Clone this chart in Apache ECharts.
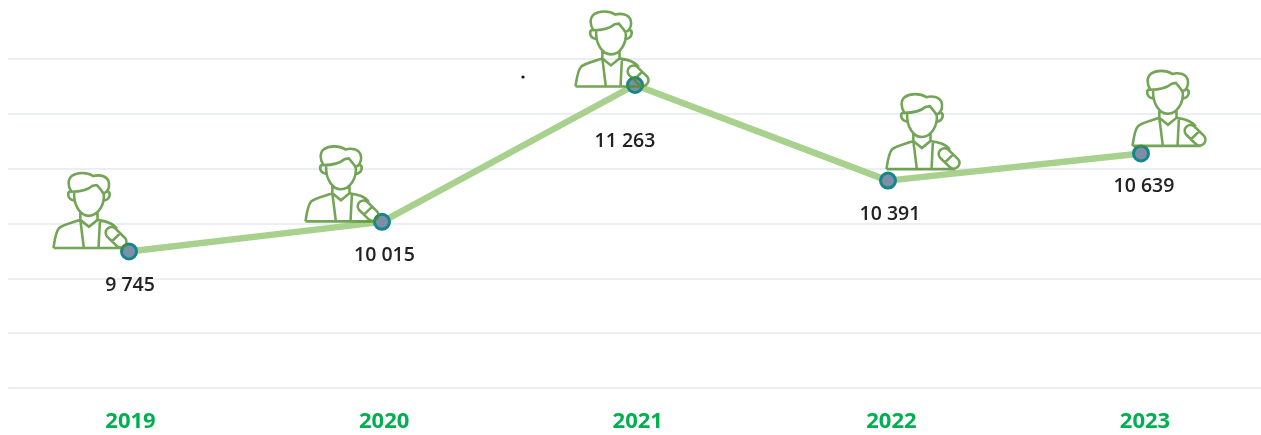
<!DOCTYPE html>
<html>
<head>
<meta charset="utf-8">
<style>html,body{margin:0;padding:0;background:#fff}#c{width:1261px;height:435px}</style>
<script src="https://cdn.jsdelivr.net/npm/echarts@6/dist/echarts.min.js"></script>
</head>
<body>
<div id="c"></div>
<script>
const years = [2019, 2020, 2021, 2022, 2023];
const values = [9745, 10015, 11263, 10391, 10639];

const iconOffsets = [[-39, -41], [-40, -38], [-23, -36], [35, -49], [28, -45]];
const labelOffsets = [[1, 34], [2.5, 34], [-10, 56], [2, 34], [3, 33]];

const personIcon = 'path://' +
  'M72 262 L272 262 ' +
  'M72 262 C76 235 78 215 88 203 C100 192 130 186 150 178 L175 199 L200 178 C222 182 244 186 256 204 ' +
  'M150 178 L160 260 M207 180 L203 260 ' +
  'M150 154 L150 178 M200 154 L200 178 ' +
  'M132 96 C130 135 150 166 175 166 C200 166 222 135 218 98 ' +
  'M122 92 C110 96 112 116 132 120 M228 92 C240 96 238 116 219 120 ' +
  'M124 94 C114 78 112 58 126 46 C140 36 168 34 188 47 C205 42 226 46 232 62 C236 76 232 88 224 96 L216 98 C212 90 206 84 198 74 L186 76 C172 88 150 94 124 94 Z ' +
  'M252 204 L280 232 A17 17 0 0 1 256 256 L228 228 A17 17 0 0 1 252 204 Z ' +
  'M266 218 L242 242';

const chart = echarts.init(document.getElementById('c'), null, { renderer: 'canvas' });
const fmt = v => String(v).replace(/\B(?=(\d{3})+$)/g, ' ');

chart.setOption({
  animation: false,
  backgroundColor: '#fff',
  grid: [
    { left: 8, right: 0, top: 59, bottom: 47 },
    { left: 130.5, right: 116, top: 59, bottom: 47 }
  ],
  xAxis: [
    { type: 'value', gridIndex: 0, min: 2018.5217, max: 2023.4743, show: false, splitLine: { show: false } },
    {
      type: 'category', gridIndex: 1, data: years.map(String), position: 'bottom', boundaryGap: false,
      axisLine: { show: false }, axisTick: { show: false },
      axisLabel: { color: '#00b050', fontFamily: 'Open Sans', fontWeight: 700, fontSize: 22, margin: 23, showMinLabel: true, showMaxLabel: true, interval: 0 }
    }
  ],
  yAxis: [
    {
      type: 'value', gridIndex: 0, min: 8500, max: 11500, interval: 500,
      axisLine: { show: false }, axisTick: { show: false }, axisLabel: { show: false },
      splitLine: { show: true, lineStyle: { color: '#e4e8f0', width: 1.5 } }
    },
    { type: 'value', gridIndex: 1, min: 8500, max: 11500, show: false, splitLine: { show: false } }
  ],
  series: [
    {
      type: 'line', xAxisIndex: 0, yAxisIndex: 0, z: 2,
      data: years.map((y, i) => ({
        value: [y, values[i]],
        label: { offset: labelOffsets[i] }
      })),
      symbol: 'circle', symbolSize: 15,
      lineStyle: { color: '#a9d18e', width: 6.5 },
      itemStyle: { color: '#7c8fa9', borderColor: '#16868a', borderWidth: 3 },
      label: {
        show: true, position: 'inside', color: '#222',
        fontFamily: 'Open Sans', fontWeight: 600, fontSize: 19.5,
        formatter: p => fmt(p.value[1])
      }
    },
    {
      type: 'scatter', xAxisIndex: 0, yAxisIndex: 0, z: 3, silent: true,
      symbol: personIcon, symbolSize: [73, 75], symbolKeepAspect: false,
      data: years.map((y, i) => ({ value: [y, values[i]], symbolOffset: iconOffsets[i] })),
      itemStyle: { color: 'none', borderColor: '#4f8f2a', borderWidth: 2.6 }
    }
  ],
  graphic: [{ type: 'circle', shape: { cx: 523, cy: 77, r: 1.6 }, style: { fill: '#111' } }]
});
</script>
</body>
</html>
